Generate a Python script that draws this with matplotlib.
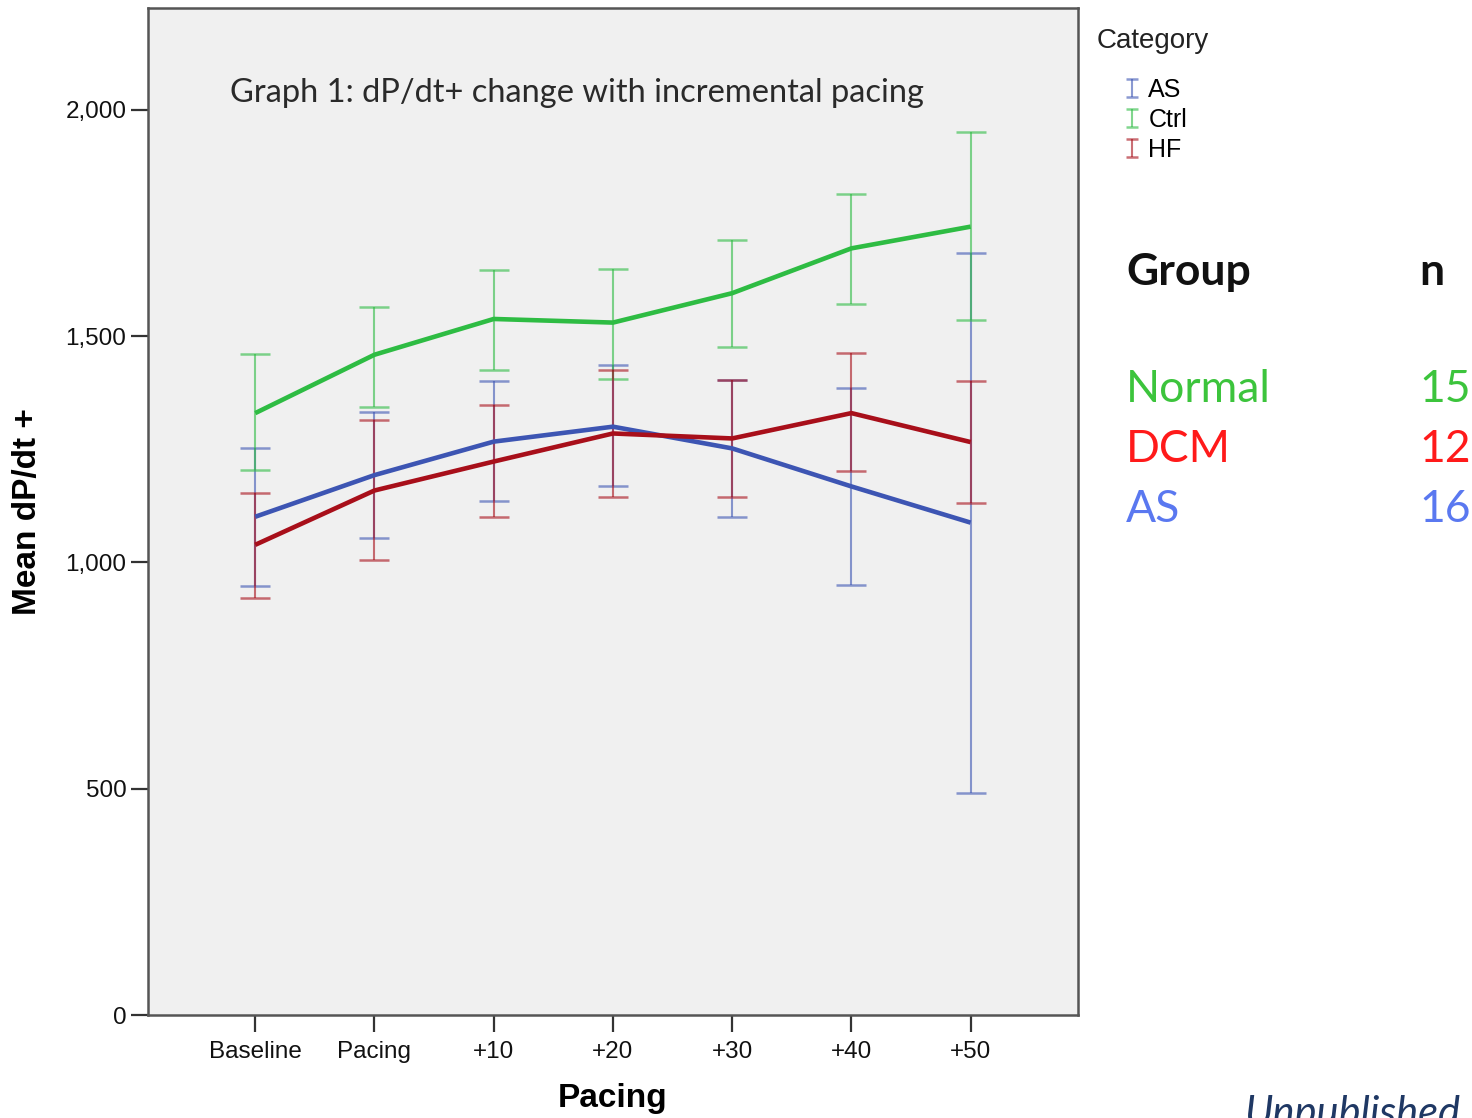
import numpy as np
import matplotlib.pyplot as plt
from matplotlib.ticker import FuncFormatter
from matplotlib.legend_handler import HandlerErrorbar
from matplotlib.lines import Line2D

# Pacing steps on the x axis
steps = ['Baseline', 'Pacing', '+10', '+20', '+30', '+40', '+50']

# Mean dP/dt+ and 95% CI limits per category
as_mean = [1101, 1193, 1267, 1300, 1252, 1168, 1088]
as_low = [948, 1054, 1136, 1170, 1100, 950, 491]
as_high = [1254, 1333, 1401, 1436, 1403, 1385, 1683]

ctrl_mean = [1330, 1459, 1538, 1530, 1595, 1694, 1742]
ctrl_low = [1204, 1344, 1425, 1405, 1477, 1571, 1536]
ctrl_high = [1461, 1565, 1646, 1648, 1713, 1814, 1951]

hf_mean = [1039, 1159, 1223, 1285, 1274, 1330, 1266]
hf_low = [921, 1006, 1101, 1144, 1145, 1203, 1132]
hf_high = [1154, 1315, 1347, 1425, 1403, 1462, 1400]

# Group summary table on the right
group_names = ['Normal', 'DCM', 'AS']
group_n = [15, 12, 16]

series = [
    ('AS', as_mean, as_low, as_high, '#3d55b3'),
    ('Ctrl', ctrl_mean, ctrl_low, ctrl_high, '#2ebc43'),
    ('HF', hf_mean, hf_low, hf_high, '#a80f1a'),
]
group_colors = ['#3cc43c', '#ff1a1a', '#5a78f0']


# legend glyph: just a small "I" shaped error bar
class SmallCapHandler(HandlerErrorbar):
    def create_artists(self, *args, **kwargs):
        artists = super().create_artists(*args, **kwargs)
        for a in artists:
            if isinstance(a, Line2D) and a.get_marker() == '_':
                a.set_markersize(9)
        return artists


plt.rcParams['font.family'] = ['Liberation Sans', 'DejaVu Sans']
calibri_like = ['Lato', 'DejaVu Sans']

fig = plt.figure(figsize=(14.72, 11.18), dpi=100)
ax = fig.add_axes([0.1005, 0.0921, 0.6318, 0.9007])
ax.set_facecolor('#f0f0f0')

x = np.arange(len(steps))
containers = []
for label, mean, low, high, color in series:
    mean = np.array(mean)
    yerr = [mean - np.array(low), np.array(high) - mean]
    eb = ax.errorbar(x, mean, yerr=yerr, fmt='none', ecolor=color, elinewidth=1.5,
                     capsize=10.5, capthick=1.8, alpha=0.6, label=label, zorder=2)
    containers.append(eb)
for label, mean, low, high, color in series:
    ax.plot(x, mean, color=color, linewidth=3.3, solid_capstyle='butt', zorder=3)

ax.set_xlim(-0.9, 6.9)
ax.set_ylim(0, 2225)
ax.set_xticks(x)
ax.set_xticklabels(steps)
ax.set_yticks([0, 500, 1000, 1500, 2000])
ax.yaxis.set_major_formatter(FuncFormatter(lambda v, p: '{:,.0f}'.format(v)))

for s in ax.spines.values():
    s.set_color('#555555')
    s.set_linewidth(1.8)
ax.tick_params(axis='both', direction='out', length=12, width=1.6, color='#333333',
               labelsize=17.5, labelcolor='#111111')
ax.tick_params(axis='x', pad=7)

ax.set_ylabel('Mean dP/dt +', fontsize=24, fontweight='bold', labelpad=16)
ax.set_xlabel('Pacing', fontsize=24, fontweight='bold', labelpad=14)

ax.text(0.088, 0.916, 'Graph 1: dP/dt+ change with incremental pacing',
        transform=ax.transAxes, fontsize=23.5, color='#2a2a2a', family=calibri_like,
        va='center', ha='left')

leg = fig.legend(handles=containers, labels=[s[0] for s in series],
                 handler_map={type(containers[0]): SmallCapHandler(yerr_size=0.36)},
                 loc='upper left', bbox_to_anchor=(0.730, 0.995), frameon=False,
                 title='Category', fontsize=18, title_fontsize=20, handlelength=2.8,
                 handletextpad=-0.75, labelspacing=0.25, alignment='left')
leg.get_title().set_color('#222222')
# more room between the legend title and its entries
leg._legend_box.sep = 17

# Group / n table
fig.text(0.765, 0.757, 'Group', fontsize=32, fontweight='bold', family=calibri_like,
         va='center', ha='left', color='#111111')
fig.text(0.964, 0.757, 'n', fontsize=32, fontweight='bold', family=calibri_like,
         va='center', ha='left', color='#111111')
row_y = [0.652, 0.598, 0.544]
for name, n, c, yy in zip(group_names, group_n, group_colors, row_y):
    fig.text(0.765, yy, name, fontsize=32, family=calibri_like,
             va='center', ha='left', color=c)
    fig.text(0.964, yy, str(n), fontsize=32, family=calibri_like,
             va='center', ha='left', color=c)

fig.text(0.845, 0.004, 'Unpublished', fontsize=30, style='italic', family=calibri_like,
         va='center', ha='left', color='#1f3864')

fig.savefig('out.png', dpi=100, facecolor='white')
